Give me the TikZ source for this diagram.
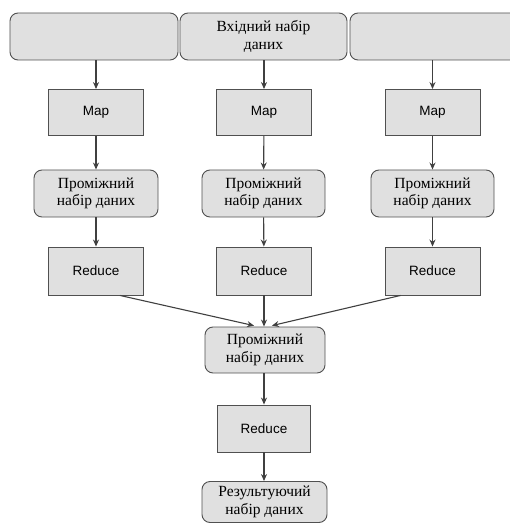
\documentclass[tikz,border=0pt]{standalone}
\usepackage{fontspec}
\setmainfont{Liberation Serif}
\newfontfamily\labelsans{Liberation Sans}
\usetikzlibrary{arrows.meta}
\definecolor{boxfill}{HTML}{E0E0E0}
\definecolor{boxline}{HTML}{505050}
\definecolor{arrowline}{HTML}{404040}
\tikzset{
  databox/.style={draw=boxline, fill=boxfill, line width=0.9bp, rounded corners=8bp,
    inner sep=0pt, align=center,
    font=\fontsize{15.5bp}{17.5bp}\selectfont},
  procbox/.style={draw=boxline, fill=boxfill, line width=0.9bp, inner sep=0pt,
    minimum width=95bp, minimum height=46bp,
    font=\labelsans\fontsize{13.5bp}{15bp}\selectfont},
  flow/.style={draw=arrowline, line width=1.1bp, -{Stealth[length=7bp,width=6bp]}}
}
\begin{document}
\begin{tikzpicture}[x=1bp,y=-1bp]
  \useasboundingbox (0,0) rectangle (510,525);
  \clip (0,0) rectangle (510,525);
  % input data set, split into three parts
  \node[databox, minimum width=168bp, minimum height=47bp] (inL) at (94,36.5) {};
  \node[databox, minimum width=167bp, minimum height=47bp] (inM) at (263.5,36.5) {Вхідний набір\\даних};
  \node[databox, minimum width=170bp, minimum height=47bp] (inR) at (435,36.5) {};
  % map stage
  \node[procbox] (mapL) at (96,112.5) {Map};
  \node[procbox] (mapM) at (264,112.5) {Map};
  \node[procbox] (mapR) at (432.5,112.5) {Map};
  % intermediate data
  \node[databox, minimum width=124bp, minimum height=47bp] (midL) at (96,193.5) {Проміжний\\набір даних};
  \node[databox, minimum width=123bp, minimum height=47bp] (midM) at (263.5,193.5) {Проміжний\\набір даних};
  \node[databox, minimum width=123bp, minimum height=47bp] (midR) at (432.5,193.5) {Проміжний\\набір даних};
  % first reduce stage
  \node[procbox, minimum height=48bp] (redL) at (96,271) {Reduce};
  \node[procbox, minimum height=48bp] (redM) at (264,271) {Reduce};
  \node[procbox, minimum height=48bp] (redR) at (432.5,271) {Reduce};
  % merged intermediate data and final reduce
  \node[databox, minimum width=120bp, minimum height=46bp] (midAll) at (265,350) {Проміжний\\набір даних};
  \node[procbox, minimum width=93bp, minimum height=47bp] (redAll) at (264,428.5) {Reduce};
  \node[databox, minimum width=125bp, minimum height=41bp] (result) at (264.5,502) {Результуючий\\набір даних};
  % connectors
  \draw[flow] (inL.south -| mapL.north) -- (mapL.north);
  \draw[flow] (inM.south -| mapM.north) -- (mapM.north);
  \draw[flow] (inR.south -| mapR.north) -- (mapR.north);
  \draw[flow] (mapL) -- (midL);
  \draw[flow] (mapM) -- (midM);
  \draw[flow] (mapR) -- (midR);
  \draw[flow] (midL) -- (redL);
  \draw[flow] (midM) -- (redM);
  \draw[flow] (midR) -- (redR);
  \draw[flow, shorten >=4bp] ([xshift=24bp]redL.south) -- ([xshift=-7bp]midAll.north);
  \draw[flow] (redM.south) -- (redM.south |- midAll.north);
  \draw[flow, shorten >=4bp] ([xshift=-32bp]redR.south) -- ([xshift=3bp]midAll.north);
  \draw[flow] (midAll.south -| redAll.north) -- (redAll.north);
  \draw[flow] (redAll.south) -- (redAll.south |- result.north);
\end{tikzpicture}
\end{document}
